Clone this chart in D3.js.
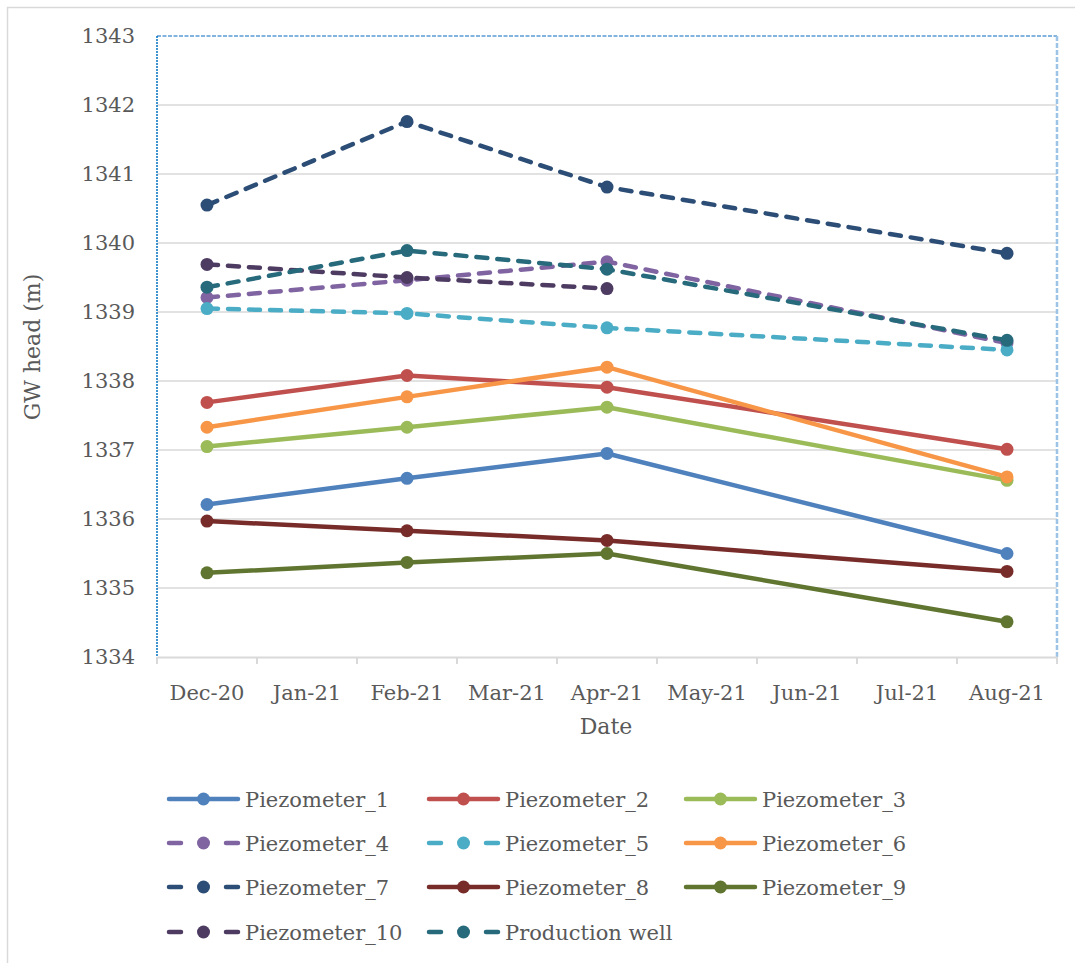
<!DOCTYPE html>
<html>
<head>
<meta charset="utf-8">
<script src="https://cdn.jsdelivr.net/npm/d3@7"></script>
<style>
  html, body { margin: 0; padding: 0; background: #fff; }
  svg text { font-family: "DejaVu Serif", "Liberation Serif", serif; fill: #595959; }
</style>
</head>
<body>
<svg id="chart" width="1075" height="963"></svg>
<script>
// Monthly axis categories and the months where heads were measured
const categories = ["Dec-20", "Jan-21", "Feb-21", "Mar-21", "Apr-21", "May-21", "Jun-21", "Jul-21", "Aug-21"];
const sampleMonths = ["Dec-20", "Feb-21", "Apr-21", "Aug-21"];
const yTicks = [1334, 1335, 1336, 1337, 1338, 1339, 1340, 1341, 1342, 1343];

// Groundwater heads (m) per well, one value per sample month
const piezometer1 = [1336.21, 1336.59, 1336.95, 1335.50];
const piezometer2 = [1337.69, 1338.08, 1337.91, 1337.01];
const piezometer3 = [1337.05, 1337.33, 1337.62, 1336.56];
const piezometer4 = [1339.21, 1339.46, 1339.73, 1338.55];
const piezometer5 = [1339.05, 1338.98, 1338.77, 1338.45];
const piezometer6 = [1337.33, 1337.77, 1338.20, 1336.61];
const piezometer7 = [1340.55, 1341.76, 1340.81, 1339.85];
const piezometer8 = [1335.97, 1335.83, 1335.69, 1335.24];
const piezometer9 = [1335.22, 1335.37, 1335.50, 1334.51];
const piezometer10 = [1339.69, 1339.50, 1339.34, null];
const productionWell = [1339.36, 1339.89, 1339.62, 1338.59];

const seriesNames = ["Piezometer_1", "Piezometer_2", "Piezometer_3", "Piezometer_4", "Piezometer_5",
  "Piezometer_6", "Piezometer_7", "Piezometer_8", "Piezometer_9", "Piezometer_10", "Production well"];
const seriesValues = [piezometer1, piezometer2, piezometer3, piezometer4, piezometer5,
  piezometer6, piezometer7, piezometer8, piezometer9, piezometer10, productionWell];
const seriesColors = ["#4f81bd", "#c0504d", "#9bbb59", "#8064a2", "#4bacc6",
  "#f79646", "#2c4d75", "#772c2a", "#5f7530", "#4d3b62", "#276a7c"];
const seriesDashed = [false, false, false, true, true, false, true, false, false, true, true];

const svg = d3.select("#chart");
const plot = { left: 157, right: 1057, top: 36, bottom: 657 };

// Outer chart frame (top and left edges visible)
svg.append("rect")
  .attr("x", 7.5).attr("y", 7.5).attr("width", 1100).attr("height", 1000)
  .attr("fill", "none").attr("stroke", "#d9d9d9").attr("stroke-width", 1.5);

const x = d3.scaleBand().domain(categories).range([plot.left, plot.right]).padding(0);
const y = d3.scaleLinear().domain([1334, 1343]).range([plot.bottom, plot.top]);
const cx = m => x(m) + x.bandwidth() / 2;

// Horizontal gridlines
svg.append("g").selectAll("line")
  .data(yTicks.filter(t => t > 1334 && t < 1343))
  .join("line")
  .attr("x1", plot.left).attr("x2", plot.right)
  .attr("y1", d => y(d)).attr("y2", d => y(d))
  .attr("stroke", "#d9d9d9").attr("stroke-width", 1.5);

// Plot-area border, dotted blue
svg.append("line").attr("x1", plot.left).attr("x2", plot.right).attr("y1", plot.top).attr("y2", plot.top)
  .attr("stroke", "#5b9bd5").attr("stroke-width", 1.5).attr("stroke-dasharray", "4,1.5");
svg.append("line").attr("x1", plot.right).attr("x2", plot.right).attr("y1", plot.top).attr("y2", plot.bottom)
  .attr("stroke", "#9dc3e6").attr("stroke-width", 2.5).attr("stroke-dasharray", "5,2");
svg.append("line").attr("x1", plot.left).attr("x2", plot.left).attr("y1", plot.top).attr("y2", plot.bottom)
  .attr("stroke", "#0070c0").attr("stroke-width", 1.5).attr("stroke-dasharray", "2,1");

// Y axis labels
const yAxis = svg.append("g")
  .attr("transform", `translate(${plot.left - 22},0)`)
  .call(d3.axisLeft(y).tickValues(yTicks).tickSize(0).tickPadding(0).tickFormat(d3.format("d")));
yAxis.select(".domain").remove();
yAxis.selectAll("text").style("font-size", "21px").attr("fill", "#595959");

// X axis: line, tick marks at category boundaries, centred month labels
const xAxis = svg.append("g")
  .attr("transform", `translate(0,${plot.bottom})`)
  .call(d3.axisBottom(x).tickSize(0).tickPadding(28));
xAxis.select(".domain").attr("stroke", "#d9d9d9").attr("stroke-width", 2);
xAxis.selectAll("text").style("font-size", "21px").attr("fill", "#595959");
svg.append("g").selectAll("line")
  .data(categories.map(c => x(c)).concat([plot.right]))
  .join("line")
  .attr("x1", d => d).attr("x2", d => d)
  .attr("y1", plot.bottom).attr("y2", plot.bottom + 7)
  .attr("stroke", "#d9d9d9").attr("stroke-width", 2);

// Axis titles
svg.append("text").attr("x", 606).attr("y", 734).attr("text-anchor", "middle")
  .style("font-size", "22px").text("Date");
svg.append("text").attr("transform", "translate(40,347) rotate(-90)").attr("text-anchor", "middle")
  .style("font-size", "22px").text("GW head (m)");

// Series lines and markers
const line = d3.line()
  .defined(d => d.v !== null)
  .x(d => cx(d.m)).y(d => y(d.v));

seriesNames.forEach((name, i) => {
  const pts = sampleMonths.map((m, j) => ({ m, v: seriesValues[i][j] }));
  const g = svg.append("g");
  g.append("path").datum(pts)
    .attr("d", line)
    .attr("fill", "none")
    .attr("stroke", seriesColors[i])
    .attr("stroke-width", 4.5)
    .attr("stroke-linecap", "round")
    .attr("stroke-linejoin", "round")
    .attr("stroke-dasharray", seriesDashed[i] ? "11,10" : null);
  g.selectAll("circle").data(pts.filter(d => d.v !== null))
    .join("circle")
    .attr("cx", d => cx(d.m)).attr("cy", d => y(d.v))
    .attr("r", 6.5).attr("fill", seriesColors[i]);
});

// Legend, three columns
const legendCols = [167, 427, 684];
const legendRows = [799, 843, 887, 932];
const legend = svg.append("g");
seriesNames.forEach((name, i) => {
  const lx = legendCols[i % 3];
  const ly = legendRows[Math.floor(i / 3)];
  const item = legend.append("g").attr("transform", `translate(${lx},${ly})`);
  if (seriesDashed[i]) {
    [[2, 14], [59, 71]].forEach(s => item.append("line")
      .attr("x1", s[0]).attr("x2", s[1]).attr("y1", 0).attr("y2", 0)
      .attr("stroke", seriesColors[i]).attr("stroke-width", 4.5).attr("stroke-linecap", "round"));
  } else {
    item.append("line").attr("x1", 2).attr("x2", 71).attr("y1", 0).attr("y2", 0)
      .attr("stroke", seriesColors[i]).attr("stroke-width", 4.5).attr("stroke-linecap", "round");
  }
  item.append("circle").attr("cx", 36.5).attr("cy", 0).attr("r", 6.5).attr("fill", seriesColors[i]);
  item.append("text").attr("x", 78).attr("y", 7.5).style("font-size", "21px").text(name);
});
</script>
</body>
</html>
